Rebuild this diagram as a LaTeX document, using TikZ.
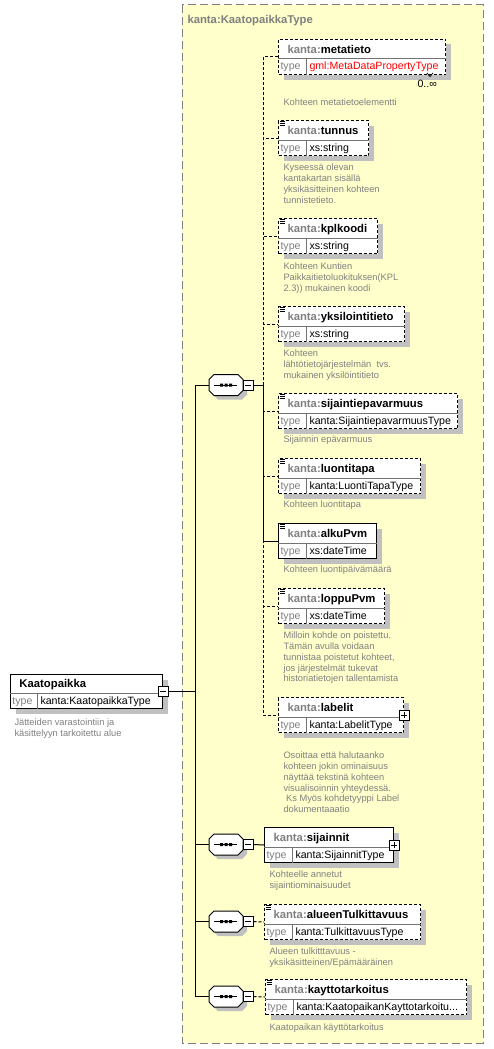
\documentclass[tikz,border=0pt]{standalone}
\usepackage{fontspec}
\setmainfont{Liberation Sans}
\usetikzlibrary{calc,shadows}

\definecolor{schemabg}{HTML}{FFFFCC}
\definecolor{labelgray}{HTML}{808080}
\definecolor{shadowgray}{HTML}{C0C0C0}

\tikzset{
  opt/.style={dash pattern=on 3pt off 2pt},
  req/.style={solid},
  boxshadow/.style={drop shadow={shadow xshift=5pt,shadow yshift=-5pt,fill=shadowgray,opacity=1}},
  elem/.style={rectangle,draw,fill=white,inner sep=0pt,anchor=north west,minimum height=35pt,boxshadow},
  rowline/.style={draw=black!55,solid},
  nametext/.style={anchor=base west,inner sep=0pt,font=\fontsize{11.3}{13}\selectfont\bfseries},
  typetext/.style={anchor=base west,inner sep=0pt,font=\fontsize{10.6}{12}\selectfont},
  doctext/.style={anchor=north west,inner sep=0pt,align=left,text=labelgray,font=\fontsize{9.3}{10.8}\selectfont},
  seqbox/.style={rectangle,inner sep=0pt,minimum width=34pt,minimum height=21pt},
  togglebox/.style={rectangle,draw,solid,fill=white,inner sep=0pt,minimum size=10pt},
}

\begin{document}
\begin{tikzpicture}[x=1pt,y=-1pt,line width=1pt]
\fill[white] (0,0) rectangle (494,1049);
\useasboundingbox (0,0) rectangle (494,1049);

\draw[draw=labelgray,fill=schemabg,dash pattern=on 8pt off 4pt] (182,5) rectangle (483,1043);
\node[nametext,text=labelgray] (ktype-title) at (187,23.5) {kanta:KaatopaikkaType};

% element boxes
\foreach \n/\x/\y/\w/\e/\ty/\col/\s/\ic in {
  metatieto/278/39/167/metatieto/gml:MetaDataPropertyType/red/opt/0,
  tunnus/278/120/90/tunnus/xs:string/black/opt/1,
  kplkoodi/278/218/99/kplkoodi/xs:string/black/opt/1,
  yksilointitieto/278/306/126/yksilointitieto/xs:string/black/opt/1,
  sijaintiepavarmuus/278/393/179/sijaintiepavarmuus/kanta:SijaintiepavarmuusType/black/opt/1,
  luontitapa/278/458/142/luontitapa/kanta:LuontiTapaType/black/opt/1,
  alkuPvm/278/523/98/alkuPvm/xs:dateTime/black/req/1,
  loppuPvm/278/588/106/loppuPvm/xs:dateTime/black/opt/1,
  labelit/278/697/125/labelit/kanta:LabelitType/black/opt/0,
  sijainnit/264/827/129/sijainnit/kanta:SijainnitType/black/req/0,
  alueenTulkittavuus/264/904/156/alueenTulkittavuus/kanta:TulkittavuusType/black/opt/1,
  kayttotarkoitus/265/979/201/kayttotarkoitus/{kanta:KaatopaikanKayttotarkoitu...}/black/opt/1}
{
  \node[elem,\s,minimum width=\w pt] (\n) at (\x,\y) {};
  \draw[rowline] ($(\n.north west)+(0,20)$) -- ($(\n.north east)+(0,20)$);
  \draw[rowline] ($(\n.north west)+(28,20)$) -- ($(\n.south west)+(28,0)$);
  \ifnum\ic=1
    \draw[line width=.8pt] ($(\n.north west)+(1.5,1.5)$) -- ++(5.5,0)
      ++(-5.5,2) -- ++(5.5,0) ++(-5.5,2) -- ++(5.5,0);
  \fi
  \node[nametext] (\n-name) at ($(\n.north west)+(9,14)$) {\textcolor{labelgray}{kanta:}\e};
  \node[typetext,text=labelgray] (\n-key) at ($(\n.north west)+(2,31)$) {type};
  \node[typetext,text=\col] (\n-type) at ($(\n.north west)+(31,31)$) {\ty};
}

\node[typetext] (metatieto-occ) at (417,88) {0..∞};
\draw[line width=.8pt] (427,73) -- (430,76.5) -- (433,73);

\foreach \n in {labelit,sijainnit}{
  \node[togglebox] (\n-p) at (\n.east) {};
  \draw (\n-p.center) ++(-3,0) -- ++(6,0) (\n-p.center) ++(0,-3) -- ++(0,6);
}

% root element
\node[elem,minimum width=152pt,minimum height=34pt] (kaatopaikka) at (10,674) {};
\draw[rowline] ($(kaatopaikka.north west)+(0,19)$) -- ($(kaatopaikka.north east)+(0,19)$);
\draw[rowline] ($(kaatopaikka.north west)+(27,19)$) -- ($(kaatopaikka.south west)+(27,0)$);
\node[nametext] (kaatopaikka-name) at ($(kaatopaikka.north west)+(9,13.5)$) {Kaatopaikka};
\node[typetext,text=labelgray] (kaatopaikka-key) at ($(kaatopaikka.north west)+(2,30)$) {type};
\node[typetext] (kaatopaikka-type) at ($(kaatopaikka.north west)+(30,30)$) {kanta:KaatopaikkaType};
\node[togglebox] (kaatopaikka-m) at (kaatopaikka.east) {};
\draw (kaatopaikka-m.center) ++(-3,0) -- ++(6,0);

% sequences
\foreach \n/\y in {seqMain/385,seqSij/844.5,seqAlue/921.5,seqKaytto/996.5}{
  \node[seqbox] (\n) at (226,\y) {};
  \filldraw[fill=white,drop shadow={shadow xshift=4pt,shadow yshift=-4pt,fill=shadowgray,opacity=1},shift={(\n.center)}]
    (-17,-5.5) -- (-12,-10.5) -- (12,-10.5) -- (17,-5.5) -- (17,5.5) -- (12,10.5) -- (-12,10.5) -- (-17,5.5) -- cycle;
  \draw (\n.center) ++(-12,0) -- ++(23,0);
  \fill[shift={(\n.center)}] (-6,-1.5) rectangle (-3,1.5) (-1.5,-1.5) rectangle (1.5,1.5) (3,-1.5) rectangle (6,1.5);
  \node[togglebox] (\n-m) at (248,\y) {};
  \draw (\n-m.center) ++(-3,0) -- ++(6,0);
}

% connectors
\coordinate (jL) at (195,691.5);
\coordinate (jR) at (263,385);
\draw (kaatopaikka-m.east) -- (jL);
\foreach \n in {seqMain,seqSij,seqAlue,seqKaytto}
  \draw (jL) |- (\n.west);
\draw (seqMain-m.east) -- (jR);
\foreach \n in {metatieto,tunnus,kplkoodi,yksilointitieto,sijaintiepavarmuus,luontitapa,loppuPvm,labelit}
  \draw[opt] (jR) |- (\n.west);
\draw[req] (jR) |- (alkuPvm.west);
\draw[req] (seqSij-m.east) -- (sijainnit.west);
\draw[opt] (seqAlue-m.east) -- (alueenTulkittavuus.west);
\draw[opt] (seqKaytto-m.east) -- (kayttotarkoitus.west);

% documentation
\node[doctext] (metatieto-doc) at (283,98.5) {Kohteen metatietoelementti};
\node[doctext] (tunnus-doc) at (283,163.5) {Kyseessä olevan\\kantakartan sisällä\\yksikäsitteinen kohteen\\tunnistetieto.};
\node[doctext] (kplkoodi-doc) at (283,262.5) {Kohteen Kuntien\\Paikkaitietoluokituksen(KPL\\2.3)) mukainen koodi};
\node[doctext] (yksilointitieto-doc) at (283,349.5) {Kohteen\\lähtötietojärjestelmän\ \ tvs.\\mukainen yksilöintitieto};
\node[doctext] (sijaintiepavarmuus-doc) at (283,435.5) {Sijainnin epävarmuus};
\node[doctext] (luontitapa-doc) at (283,500.5) {Kohteen luontitapa};
\node[doctext] (alkuPvm-doc) at (283,565.5) {Kohteen luontipäivämäärä};
\node[doctext] (loppuPvm-doc) at (283,631.5) {Milloin kohde on poistettu.\\Tämän avulla voidaan\\tunnistaa poistetut kohteet,\\jos järjestelmät tukevat\\historiatietojen tallentamista};
\node[doctext] (labelit-doc) at (283,751.5) {Osoittaa että halutaanko\\kohteen jokin ominaisuus\\näyttää tekstinä kohteen\\visualisoinnin yhteydessä.\\\ Ks Myös kohdetyyppi Label\\dokumentaaatio};
\node[doctext] (kaatopaikka-doc) at (14,718.5) {Jätteiden varastointiin ja\\käsittelyyn tarkoitettu alue};
\node[doctext] (sijainnit-doc) at (269,870.5) {Kohteelle annetut\\sijaintiominaisuudet};
\node[doctext] (alueenTulkittavuus-doc) at (269,947.5) {Alueen tulkitttavuus -\\yksikäsitteinen/Epämääräinen};
\node[doctext] (kayttotarkoitus-doc) at (269,1023.5) {Kaatopaikan käyttötarkoitus};
\end{tikzpicture}
\end{document}
